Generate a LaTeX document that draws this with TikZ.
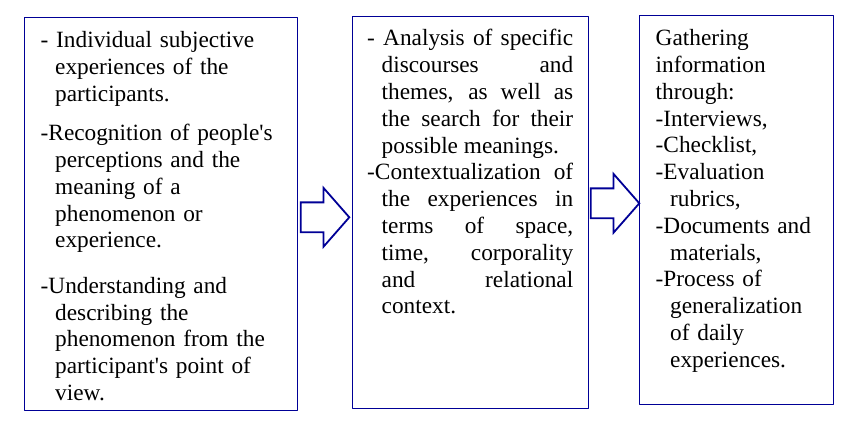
\documentclass[tikz,border=0pt]{standalone}
\usepackage{fontspec}
\setmainfont{Liberation Serif}
\usetikzlibrary{shapes.arrows}
\definecolor{framecolor}{RGB}{0,0,150}
\newcommand{\hangline}{\hangindent=14.5pt\hangafter=1\relax}
\tolerance=10000
\hbadness=10000

\begin{document}
\begin{tikzpicture}[x=1pt,y=1pt,line join=bevel,
  frame/.style={draw=framecolor,line width=1pt,inner sep=0pt,outer sep=0pt},
  body/.style={anchor=base west,inner sep=0pt,font=\fontsize{23.3}{26.8}\selectfont},
  blockarrow/.style={single arrow,draw=framecolor,line width=1.8pt,line join=miter,fill=white,inner xsep=0pt,inner ysep=14pt,outer sep=0pt,single arrow head extend=14.5pt,single arrow tip angle=97.5,minimum height=48.5pt,anchor=tip}]

 \useasboundingbox (0,0) rectangle (861,425);

 \node (box_0) at (161,210.75) [frame,minimum width=273pt,minimum height=393.5pt] {};
 \node (box_1) at (470,212.25) [frame,minimum width=236pt,minimum height=392.5pt] {};
 \node (box_2) at (736.2,214.85) [frame,minimum width=193.7pt,minimum height=388.3pt] {};

 \node (text_0) at (40.5,377.2) [body,text width=252pt] {\hangline - Individual subjective\newline experiences of the\newline participants.\par
  \vspace{12.6pt}
  \hangline -Recognition of people\textquotesingle s\newline perceptions and the\newline meaning of a\newline phenomenon or\newline experience.\par
  \vspace{18.6pt}
  \hangline -Understanding and\newline describing the\newline phenomenon from the\newline participant\textquotesingle s point of\newline view.\par};
 \node (text_1) at (367,379) [body,text width=206pt,align=justify] {\hangline - Analysis of specific\linebreak discourses and\linebreak themes, as well as\linebreak the search for their\linebreak possible meanings.\par
  \hangline -Contextualization of\linebreak the experiences in\linebreak terms of space,\linebreak time, corporality\linebreak and relational\linebreak context.\par};
 \node (text_2) at (655.5,379.3) [body,text width=175pt] {Gathering\newline information\newline through:\par
  \hangline -Interviews,\par
  \hangline -Checklist,\par
  \hangline -Evaluation\newline rubrics,\par
  \hangline -Documents and\newline materials,\par
  \hangline -Process of\newline generalization\newline of daily\newline experiences.\par};

 \node (arrow_0) at (349.3,207.7) [blockarrow] {};
 \node (arrow_1) at (639.3,221.7) [blockarrow] {};

\end{tikzpicture}
\end{document}
